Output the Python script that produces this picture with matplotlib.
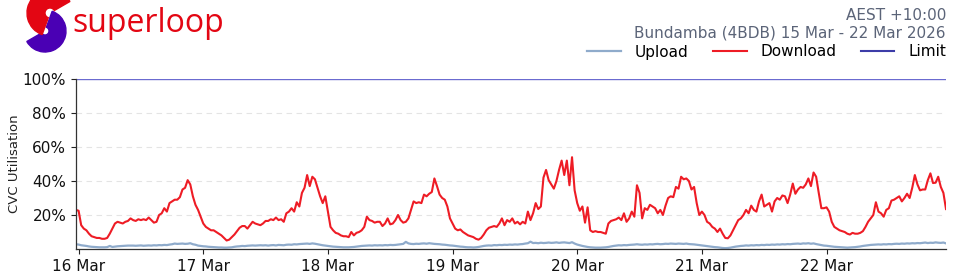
import matplotlib
matplotlib.use("Agg")
import matplotlib.pyplot as plt
from matplotlib.patches import Wedge
import pandas as pd

# ---- data (30-minute samples, starting 15 Mar 23:30) ----
start_time = "2026-03-15 23:30"
download_day0 = [23, 22.5, 14, 12, 11, 9, 7.5, 7, 6.5, 6.5, 6, 6, 6.5, 9, 12, 15, 16, 15.5, 15, 16,
                 16.5, 18, 17, 16.5, 17.5, 17, 17.5, 17, 18.5, 17, 15.5, 16, 20, 21, 24, 22, 27, 28, 29, 29,
                 30.5, 35, 36, 40.5, 38, 31, 26, 23, 19]
download_day1 = [15, 13, 12, 11, 11, 10, 9, 8, 6.5, 5, 5.5, 7, 8.5, 10.5, 12.5, 13.5, 13.5, 12, 14, 16,
                 15, 14.5, 14, 15, 16.5, 16.5, 17.5, 17, 18.5, 17, 17.5, 16, 21, 22, 24, 22, 27.5, 25, 33, 36,
                 43.5, 37, 42.5, 41, 36, 31, 27, 31]
download_day2 = [22, 13, 11, 9.5, 9, 8, 7.5, 7.5, 7, 10, 8, 9.5, 10, 11, 13, 19, 17, 16.5, 15.5, 16,
                 16, 13.5, 15, 18, 14.5, 15, 17, 20, 17, 15.5, 16, 18, 23, 28, 27, 27.5, 27, 32, 31, 32.5,
                 33.5, 41.5, 37, 32, 30, 29, 25, 18]
download_day3 = [15, 12, 11, 11.5, 10, 9, 8, 7.5, 7, 6, 5.5, 6.5, 8.5, 11, 12.5, 13, 13.5, 13, 15, 18,
                 14, 17, 16, 18, 15, 16, 14.5, 16, 15, 22, 17, 21, 27, 23.5, 25, 42, 46.5, 40.5, 38, 35.5,
                 40, 46.5, 52, 43.5, 52, 37.5, 54, 34.5]
download_day4 = [27, 22.5, 25, 15.5, 24.5, 11, 10, 10.5, 10, 10, 9.5, 9, 15, 16.5, 17, 17.5, 18.5, 17, 21, 16,
                 18, 22, 19, 37.5, 33, 18, 24, 23, 26, 25, 24, 21, 23, 20, 25.5, 30, 31, 30.5, 36.5, 35.5,
                 42.5, 41, 41.5, 40, 35, 36.5, 27, 20]
download_day5 = [22, 20, 16, 15, 13, 12, 10, 12, 9, 6.5, 6.3, 8, 11, 14, 17, 18, 20, 23, 21, 25.5,
                 23, 22, 28, 32, 25, 26, 27, 22, 28, 30, 29, 31.5, 31, 27, 32, 38.5, 32.5, 35, 36.5, 36,
                 38, 41.5, 37, 45, 42.5, 33, 24, 24]
download_day6 = [24.5, 22, 16, 13, 12, 11, 10.5, 10, 9, 8.5, 9.5, 9, 9, 9.5, 10.5, 13, 16, 18, 20, 27.5,
                 22, 21, 19, 23, 24, 28.5, 29, 30, 31, 28, 30, 32.5, 30, 36, 43.5, 38, 34.5, 35, 35, 40.5,
                 44.5, 38.8, 39, 42.5, 36.5, 33, 23.5]

upload_day0 = [2.8, 2.6, 2.2, 2.0, 1.8, 1.5, 1.3, 1.2, 1.1, 1.0, 1.0, 1.0, 1.1, 1.8, 1.2, 1.4, 1.6, 1.7, 1.8, 1.9,
               2.0, 2.0, 2.0, 1.9, 2.0, 2.1, 1.9, 2.0, 2.1, 2.0, 2.2, 2.1, 2.3, 2.2, 2.4, 2.3, 2.6, 2.8, 3.2, 3.0,
               3.1, 3.2, 3.0, 3.1, 3.4, 2.8, 2.5, 2.0, 1.8]
upload_day1 = [1.6, 1.5, 1.3, 1.2, 1.1, 1.0, 0.9, 0.9, 0.8, 0.8, 0.9, 1.0, 1.3, 1.5, 1.6, 1.8, 1.7, 1.9, 2.0, 2.1,
               2.0, 2.1, 2.2, 2.1, 2.2, 2.0, 2.2, 2.3, 2.1, 2.4, 2.3, 2.2, 2.5, 2.6, 2.5, 2.8, 2.7, 2.9, 3.0, 3.1,
               3.2, 3.0, 3.3, 3.1, 2.8, 2.5, 2.2, 2.0]
upload_day2 = [1.8, 1.6, 1.4, 1.3, 1.2, 1.1, 1.0, 1.0, 1.0, 1.1, 1.2, 1.4, 1.6, 1.8, 1.9, 2.0, 2.1, 2.0, 2.2, 2.1,
               2.2, 2.1, 2.3, 2.2, 2.4, 2.3, 2.4, 2.6, 2.8, 3.0, 4.2, 3.3, 3.0, 2.9, 3.1, 3.0, 3.2, 3.3, 3.1, 3.4,
               3.2, 3.0, 2.9, 2.8, 2.6, 2.5, 2.3, 2.1]
upload_day3 = [2.0, 1.8, 1.6, 1.4, 1.3, 1.1, 1.0, 1.0, 0.9, 1.0, 1.2, 1.5, 1.8, 2.0, 2.1, 2.0, 2.3, 2.2, 2.4, 2.3,
               2.5, 2.4, 2.6, 2.5, 2.7, 2.6, 2.8, 2.9, 3.2, 3.4, 4.3, 3.5, 3.6, 3.4, 3.7, 3.5, 3.6, 3.8, 3.6, 3.7,
               3.9, 3.6, 3.8, 3.9, 3.7, 3.5, 4.0, 3.2]
upload_day4 = [2.6, 2.2, 1.8, 1.5, 1.2, 1.0, 0.9, 0.8, 0.8, 0.8, 0.9, 1.0, 1.2, 1.5, 1.8, 2.0, 2.2, 2.1, 2.3, 2.2,
               2.4, 2.5, 2.6, 2.8, 2.6, 2.5, 2.7, 2.6, 2.8, 2.7, 2.9, 3.0, 2.8, 2.9, 3.1, 3.0, 3.2, 3.1, 3.0, 3.2,
               3.1, 3.0, 3.2, 2.9, 2.8, 2.7, 2.5, 2.3]
upload_day5 = [2.1, 1.9, 1.7, 1.5, 1.3, 1.1, 1.0, 0.8, 0.6, 0.5, 0.6, 0.8, 1.1, 1.4, 1.6, 1.8, 1.9, 2.1, 2.0, 2.2,
               2.1, 2.3, 2.2, 2.4, 2.3, 2.5, 2.4, 2.6, 2.5, 2.7, 2.6, 2.8, 2.7, 2.9, 2.8, 3.0, 3.1, 3.2, 3.0, 3.3,
               3.2, 3.4, 3.1, 3.3, 2.9, 2.6, 2.3, 2.0]
upload_day6 = [1.9, 1.7, 1.5, 1.3, 1.2, 1.1, 1.0, 0.9, 0.8, 0.9, 1.0, 1.1, 1.3, 1.5, 1.8, 2.0, 2.2, 2.4, 2.5, 2.6,
               2.7, 2.6, 2.8, 2.7, 2.9, 2.8, 3.0, 3.1, 3.0, 3.2, 3.1, 3.3, 3.2, 3.4, 3.3, 3.5, 3.4, 3.6, 3.8, 3.5,
               3.7, 3.6, 3.9, 3.7, 3.6, 3.8, 3.3]

limit_value = 100
y_ticks = [20, 40, 60, 80, 100]
x_tick_dates = ["2026-03-16", "2026-03-17", "2026-03-18", "2026-03-19", "2026-03-20", "2026-03-21", "2026-03-22"]
legend_labels = ["Upload", "Download", "Limit"]
title_line1 = "AEST +10:00"
title_line2 = "Bundamba (4BDB) 15 Mar - 22 Mar 2026"
brand_name = "superloop"

download = (download_day0 + download_day1 + download_day2 + download_day3 +
            download_day4 + download_day5 + download_day6)
upload = (upload_day0 + upload_day1 + upload_day2 + upload_day3 +
          upload_day4 + upload_day5 + upload_day6)
times_dl = pd.date_range(start_time, periods=len(download), freq="30min")
times_ul = pd.date_range(start_time, periods=len(upload), freq="30min")

C_UP = "#8fabcb"
C_DL = "#ee1c25"
C_LIM_AX = "#6b6bd0"
C_LIM_LEG = "#3c3ca8"
C_TXT = "#5b6478"

fig = plt.figure(figsize=(9.6, 2.8), dpi=100)
ax = fig.add_axes([76 / 960, 1 - 249 / 280, 870 / 960, 170 / 280])

l_up, = ax.plot(times_ul, upload, color=C_UP, lw=1.6, label=legend_labels[0])
l_dl, = ax.plot(times_dl, download, color=C_DL, lw=1.5, label=legend_labels[1])
ax.axhline(limit_value, color=C_LIM_AX, lw=1.0)
l_lim, = ax.plot([], [], color=C_LIM_LEG, lw=1.5, label=legend_labels[2])

ax.set_ylim(0, 100)
ax.set_xlim(times_dl[0], times_dl[-1])
ax.set_yticks(y_ticks)
ax.set_yticklabels([f"{v}%" for v in y_ticks], fontsize=11)
xt = pd.to_datetime(x_tick_dates)
ax.set_xticks(xt)
ax.set_xticklabels([d.strftime("%-d %b") for d in xt], fontsize=11)
ax.tick_params(axis="both", length=3.5, width=0.8, colors="#222222", labelcolor="#111111")
for v in y_ticks[:-1]:
    ax.axhline(v, color="#e4e4e4", lw=0.8, ls=(0, (5, 4)), zorder=0)
for s in ["top", "right"]:
    ax.spines[s].set_visible(False)
for s in ["left", "bottom"]:
    ax.spines[s].set_color("#333333")
    ax.spines[s].set_linewidth(0.9)
ax.set_ylabel("CVC Utilisation", fontsize=9.5, color="#222222", labelpad=1)

fig.text(946 / 960, 1 - 15 / 280, title_line1, ha="right", va="center", fontsize=11, color=C_TXT)
fig.text(946 / 960, 1 - 33 / 280, title_line2, ha="right", va="center", fontsize=11, color=C_TXT)

fig.legend(handles=[l_up, l_dl, l_lim], labels=legend_labels, loc="center right",
           bbox_to_anchor=(946 / 960, 1 - 52 / 280), ncol=3, frameon=False, fontsize=11,
           handlelength=2.2, handletextpad=0.9, columnspacing=1.6, borderaxespad=0, borderpad=0)

# logo
lax = fig.add_axes([0, 0, 1, 1], zorder=-1)
lax.set_xlim(0, 960)
lax.set_ylim(280, 0)
lax.axis("off")
lax.add_patch(Wedge((45, 31), 21, 290, 150, width=17, color="#4a00b4"))
lax.add_patch(Wedge((50, 13), 23, 110, 330, width=18, color="#e30613"))
fig.text(72 / 960, 1 - 24 / 280, brand_name, ha="left", va="center", fontsize=23,
         color="#e30613", family="Open Sans", fontweight="medium")

fig.savefig("out.png", dpi=100)
